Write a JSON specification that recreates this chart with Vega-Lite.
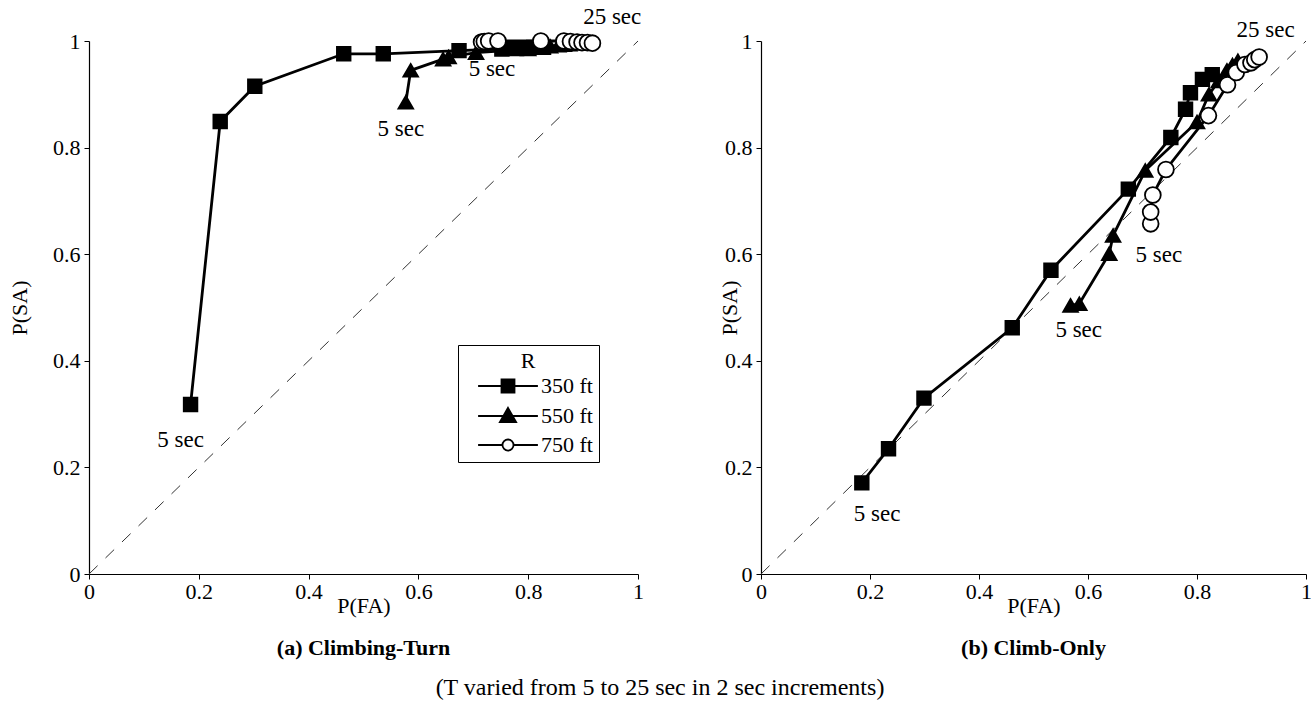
{
  "$schema": "https://vega.github.io/schema/vega-lite/v6.json",
  "background": "white",
  "padding": {"left": 8, "top": 6, "right": 0, "bottom": 4},
  "datasets": {
    "pts": [
      {"panel": "a", "R": "350 ft", "T": 5, "FA": 0.185, "SA": 0.318},
      {"panel": "a", "R": "350 ft", "T": 7, "FA": 0.239, "SA": 0.849},
      {"panel": "a", "R": "350 ft", "T": 9, "FA": 0.302, "SA": 0.915},
      {"panel": "a", "R": "350 ft", "T": 11, "FA": 0.464, "SA": 0.976},
      {"panel": "a", "R": "350 ft", "T": 13, "FA": 0.536, "SA": 0.976},
      {"panel": "a", "R": "350 ft", "T": 15, "FA": 0.674, "SA": 0.982},
      {"panel": "a", "R": "350 ft", "T": 17, "FA": 0.752, "SA": 0.985},
      {"panel": "a", "R": "350 ft", "T": 19, "FA": 0.779, "SA": 0.986},
      {"panel": "a", "R": "350 ft", "T": 21, "FA": 0.788, "SA": 0.987},
      {"panel": "a", "R": "350 ft", "T": 23, "FA": 0.810, "SA": 0.988},
      {"panel": "a", "R": "350 ft", "T": 25, "FA": 0.828, "SA": 0.988},
      {"panel": "a", "R": "550 ft", "T": 5, "FA": 0.577, "SA": 0.885},
      {"panel": "a", "R": "550 ft", "T": 7, "FA": 0.586, "SA": 0.945},
      {"panel": "a", "R": "550 ft", "T": 9, "FA": 0.645, "SA": 0.966},
      {"panel": "a", "R": "550 ft", "T": 11, "FA": 0.655, "SA": 0.970},
      {"panel": "a", "R": "550 ft", "T": 13, "FA": 0.705, "SA": 0.978},
      {"panel": "a", "R": "550 ft", "T": 15, "FA": 0.800, "SA": 0.985},
      {"panel": "a", "R": "550 ft", "T": 17, "FA": 0.822, "SA": 0.988},
      {"panel": "a", "R": "550 ft", "T": 19, "FA": 0.840, "SA": 0.990},
      {"panel": "a", "R": "550 ft", "T": 21, "FA": 0.855, "SA": 0.992},
      {"panel": "a", "R": "550 ft", "T": 23, "FA": 0.865, "SA": 0.993},
      {"panel": "a", "R": "550 ft", "T": 25, "FA": 0.875, "SA": 0.994},
      {"panel": "a", "R": "750 ft", "T": 5, "FA": 0.715, "SA": 0.998},
      {"panel": "a", "R": "750 ft", "T": 7, "FA": 0.720, "SA": 0.999},
      {"panel": "a", "R": "750 ft", "T": 9, "FA": 0.728, "SA": 1.0},
      {"panel": "a", "R": "750 ft", "T": 11, "FA": 0.745, "SA": 1.0},
      {"panel": "a", "R": "750 ft", "T": 13, "FA": 0.823, "SA": 1.0},
      {"panel": "a", "R": "750 ft", "T": 15, "FA": 0.865, "SA": 1.0},
      {"panel": "a", "R": "750 ft", "T": 17, "FA": 0.877, "SA": 0.999},
      {"panel": "a", "R": "750 ft", "T": 19, "FA": 0.889, "SA": 0.998},
      {"panel": "a", "R": "750 ft", "T": 21, "FA": 0.898, "SA": 0.997},
      {"panel": "a", "R": "750 ft", "T": 23, "FA": 0.908, "SA": 0.997},
      {"panel": "a", "R": "750 ft", "T": 25, "FA": 0.917, "SA": 0.996},
      {"panel": "b", "R": "350 ft", "T": 5, "FA": 0.185, "SA": 0.171},
      {"panel": "b", "R": "350 ft", "T": 7, "FA": 0.234, "SA": 0.235},
      {"panel": "b", "R": "350 ft", "T": 9, "FA": 0.299, "SA": 0.330},
      {"panel": "b", "R": "350 ft", "T": 11, "FA": 0.461, "SA": 0.462},
      {"panel": "b", "R": "350 ft", "T": 13, "FA": 0.532, "SA": 0.570},
      {"panel": "b", "R": "350 ft", "T": 15, "FA": 0.674, "SA": 0.722},
      {"panel": "b", "R": "350 ft", "T": 17, "FA": 0.752, "SA": 0.819},
      {"panel": "b", "R": "350 ft", "T": 19, "FA": 0.779, "SA": 0.872},
      {"panel": "b", "R": "350 ft", "T": 21, "FA": 0.788, "SA": 0.903},
      {"panel": "b", "R": "350 ft", "T": 23, "FA": 0.810, "SA": 0.928},
      {"panel": "b", "R": "350 ft", "T": 25, "FA": 0.828, "SA": 0.937},
      {"panel": "b", "R": "550 ft", "T": 5, "FA": 0.568, "SA": 0.504},
      {"panel": "b", "R": "550 ft", "T": 7, "FA": 0.584, "SA": 0.507},
      {"panel": "b", "R": "550 ft", "T": 9, "FA": 0.639, "SA": 0.601},
      {"panel": "b", "R": "550 ft", "T": 11, "FA": 0.646, "SA": 0.635},
      {"panel": "b", "R": "550 ft", "T": 13, "FA": 0.705, "SA": 0.757},
      {"panel": "b", "R": "550 ft", "T": 15, "FA": 0.800, "SA": 0.848},
      {"panel": "b", "R": "550 ft", "T": 17, "FA": 0.822, "SA": 0.900},
      {"panel": "b", "R": "550 ft", "T": 19, "FA": 0.840, "SA": 0.925},
      {"panel": "b", "R": "550 ft", "T": 21, "FA": 0.855, "SA": 0.945},
      {"panel": "b", "R": "550 ft", "T": 23, "FA": 0.865, "SA": 0.955},
      {"panel": "b", "R": "550 ft", "T": 25, "FA": 0.875, "SA": 0.963},
      {"panel": "b", "R": "750 ft", "T": 5, "FA": 0.715, "SA": 0.657},
      {"panel": "b", "R": "750 ft", "T": 7, "FA": 0.715, "SA": 0.679},
      {"panel": "b", "R": "750 ft", "T": 9, "FA": 0.719, "SA": 0.711},
      {"panel": "b", "R": "750 ft", "T": 11, "FA": 0.743, "SA": 0.759},
      {"panel": "b", "R": "750 ft", "T": 13, "FA": 0.821, "SA": 0.860},
      {"panel": "b", "R": "750 ft", "T": 15, "FA": 0.856, "SA": 0.918},
      {"panel": "b", "R": "750 ft", "T": 17, "FA": 0.872, "SA": 0.941},
      {"panel": "b", "R": "750 ft", "T": 19, "FA": 0.888, "SA": 0.956},
      {"panel": "b", "R": "750 ft", "T": 21, "FA": 0.899, "SA": 0.959},
      {"panel": "b", "R": "750 ft", "T": 23, "FA": 0.906, "SA": 0.965},
      {"panel": "b", "R": "750 ft", "T": 25, "FA": 0.914, "SA": 0.970}
    ],
    "diag": [{"FA": 0, "SA": 0, "FA2": 1, "SA2": 1}],
    "notes": [
      {"panel": "a", "FA": 0.167, "SA": 0.251, "label": "5 sec"},
      {"panel": "a", "FA": 0.568, "SA": 0.835, "label": "5 sec"},
      {"panel": "a", "FA": 0.734, "SA": 0.947, "label": "5 sec"},
      {"panel": "a", "FA": 0.953, "SA": 1.045, "label": "25  sec"},
      {"panel": "b", "FA": 0.213, "SA": 0.112, "label": "5 sec"},
      {"panel": "b", "FA": 0.583, "SA": 0.457, "label": "5 sec"},
      {"panel": "b", "FA": 0.730, "SA": 0.598, "label": "5 sec"},
      {"panel": "b", "FA": 0.926, "SA": 1.021, "label": "25 sec"}
    ]
  },
  "spacing": 123,
  "bounds": "flush",
  "title": {"text": "(T varied from 5 to 25 sec in 2 sec increments)", "orient": "bottom", "anchor": "middle", "font": "Liberation Serif", "fontSize": 24, "fontWeight": "normal", "color": "black", "offset": 17},
  "hconcat": [
    {
      "width": 549,
      "height": 533,
      "title": {"text": "(a) Climbing-Turn", "orient": "bottom", "anchor": "middle", "font": "Liberation Serif", "fontSize": 22, "fontWeight": "bold", "color": "black", "offset": 22},
      "encoding": {
        "x": {"field": "FA", "type": "quantitative", "scale": {"domain": [0, 1], "nice": false, "zero": false}, "axis": {"title": "P(FA)", "values": [0, 0.2, 0.4, 0.6, 0.8, 1], "titlePadding": -7}},
        "y": {"field": "SA", "type": "quantitative", "scale": {"domain": [0, 1], "nice": false, "zero": false}, "axis": {"title": "P(SA)", "values": [0, 0.2, 0.4, 0.6, 0.8, 1], "titlePadding": 21}}
      },
      "layer": [
        {"data": {"name": "diag"}, "mark": {"type": "rule", "strokeDash": [12, 11], "strokeWidth": 1, "color": "#333333"}, "encoding": {"x2": {"field": "FA2"}, "y2": {"field": "SA2"}}},
        {"data": {"name": "pts"}, "transform": [{"filter": "datum.panel === 'a'"}], "mark": {"type": "line", "color": "black", "strokeWidth": 2.8}, "encoding": {"detail": {"field": "R", "type": "nominal"}, "order": {"field": "T", "type": "quantitative"}}},
        {"data": {"name": "pts"}, "transform": [{"filter": "datum.panel === 'a'"}], "mark": {"type": "point", "stroke": "black", "strokeWidth": 1.8, "opacity": 1},
         "encoding": {
           "shape": {"field": "R", "type": "nominal", "scale": {"domain": ["350 ft", "550 ft", "750 ft"], "range": ["square", "triangle-up", "circle"]}, "legend": null},
           "fill": {"field": "R", "type": "nominal", "scale": {"domain": ["350 ft", "550 ft", "750 ft"], "range": ["black", "black", "white"]}, "legend": null},
           "size": {"field": "R", "type": "ordinal", "scale": {"domain": ["350 ft", "550 ft", "750 ft"], "range": [185, 250, 100]}, "legend": null}
         }},
        {"data": {"name": "pts"}, "transform": [{"filter": "datum.panel === 'a'"}], "mark": {"type": "point", "opacity": 0},
         "encoding": {
           "shape": {"field": "R", "type": "nominal", "title": "R", "scale": {"domain": ["350 ft", "550 ft", "750 ft"], "range": ["M-4.6,0H4.6M-1,-1H1V1H-1Z", "M-4.6,0H4.6M0,-1.25L1.25,0.95H-1.25Z", "M-4.6,0H-0.85M0.85,0H4.6M0.85,0A0.85,0.85,0,1,1,-0.85,0A0.85,0.85,0,1,1,0.85,0Z"]},
             "legend": {"orient": "none", "legendX": 369, "legendY": 304, "titleAnchor": "middle", "titleFont": "Liberation Serif", "titleFontSize": 22, "titleFontWeight": "normal", "titleColor": "black", "labelFont": "Liberation Serif", "labelFontSize": 22, "labelColor": "black", "symbolSize": 169, "symbolOffset": 33, "labelOffset": 22, "rowPadding": 7, "padding": 6, "strokeColor": "black", "fillColor": "white", "symbolStrokeColor": "black", "symbolStrokeWidth": 1.8, "symbolOpacity": 1, "titlePadding": 2}},
           "fill": {"field": "R", "type": "nominal", "title": "R", "scale": {"domain": ["350 ft", "550 ft", "750 ft"], "range": ["black", "black", "white"]},
             "legend": {"orient": "none", "legendX": 369, "legendY": 304, "titleAnchor": "middle", "titleFont": "Liberation Serif", "titleFontSize": 22, "titleFontWeight": "normal", "titleColor": "black", "labelFont": "Liberation Serif", "labelFontSize": 22, "labelColor": "black", "symbolSize": 169, "symbolOffset": 33, "labelOffset": 22, "rowPadding": 7, "padding": 6, "strokeColor": "black", "fillColor": "white", "symbolStrokeColor": "black", "symbolStrokeWidth": 1.8, "symbolOpacity": 1, "titlePadding": 2}},
           "stroke": {"field": "R", "type": "nominal", "title": "R", "scale": {"domain": ["350 ft", "550 ft", "750 ft"], "range": ["black", "black", "black"]},
             "legend": {"orient": "none", "legendX": 369, "legendY": 304, "titleAnchor": "middle", "titleFont": "Liberation Serif", "titleFontSize": 22, "titleFontWeight": "normal", "titleColor": "black", "labelFont": "Liberation Serif", "labelFontSize": 22, "labelColor": "black", "symbolSize": 169, "symbolOffset": 33, "labelOffset": 22, "rowPadding": 7, "padding": 6, "strokeColor": "black", "fillColor": "white", "symbolStrokeColor": "black", "symbolStrokeWidth": 1.8, "symbolOpacity": 1, "titlePadding": 2}}
         }},
        {"data": {"name": "notes"}, "transform": [{"filter": "datum.panel === 'a'"}], "mark": {"type": "text", "font": "Liberation Serif", "fontSize": 23, "color": "black"}, "encoding": {"text": {"field": "label", "type": "nominal"}}}
      ],
      "resolve": {"scale": {"shape": "independent", "fill": "independent", "stroke": "independent"}}
    },
    {
      "width": 545,
      "height": 533,
      "title": {"text": "(b) Climb-Only", "orient": "bottom", "anchor": "middle", "font": "Liberation Serif", "fontSize": 22, "fontWeight": "bold", "color": "black", "offset": 22},
      "encoding": {
        "x": {"field": "FA", "type": "quantitative", "scale": {"domain": [0, 1], "nice": false, "zero": false}, "axis": {"title": "P(FA)", "values": [0, 0.2, 0.4, 0.6, 0.8, 1], "titlePadding": -7}},
        "y": {"field": "SA", "type": "quantitative", "scale": {"domain": [0, 1], "nice": false, "zero": false}, "axis": {"title": "P(SA)", "values": [0, 0.2, 0.4, 0.6, 0.8, 1], "titlePadding": -17}}
      },
      "layer": [
        {"data": {"name": "diag"}, "mark": {"type": "rule", "strokeDash": [12, 11], "strokeWidth": 1, "color": "#333333"}, "encoding": {"x2": {"field": "FA2"}, "y2": {"field": "SA2"}}},
        {"data": {"name": "pts"}, "transform": [{"filter": "datum.panel === 'b'"}], "mark": {"type": "line", "color": "black", "strokeWidth": 2.8}, "encoding": {"detail": {"field": "R", "type": "nominal"}, "order": {"field": "T", "type": "quantitative"}}},
        {"data": {"name": "pts"}, "transform": [{"filter": "datum.panel === 'b'"}], "mark": {"type": "point", "stroke": "black", "strokeWidth": 1.8, "opacity": 1},
         "encoding": {
           "shape": {"field": "R", "type": "nominal", "scale": {"domain": ["350 ft", "550 ft", "750 ft"], "range": ["square", "triangle-up", "circle"]}, "legend": null},
           "fill": {"field": "R", "type": "nominal", "scale": {"domain": ["350 ft", "550 ft", "750 ft"], "range": ["black", "black", "white"]}, "legend": null},
           "size": {"field": "R", "type": "ordinal", "scale": {"domain": ["350 ft", "550 ft", "750 ft"], "range": [185, 250, 100]}, "legend": null}
         }},
        {"data": {"name": "notes"}, "transform": [{"filter": "datum.panel === 'b'"}], "mark": {"type": "text", "font": "Liberation Serif", "fontSize": 23, "color": "black"}, "encoding": {"text": {"field": "label", "type": "nominal"}}}
      ]
    }
  ],
  "config": {
    "view": {"stroke": null},
    "font": "Liberation Serif",
    "axis": {"labelFont": "Liberation Serif", "labelFontSize": 22, "labelColor": "black", "titleFont": "Liberation Serif", "titleFontSize": 22, "titleFontWeight": "normal", "titleColor": "black", "domainColor": "black", "domainWidth": 1.2, "tickColor": "black", "tickSize": 5, "grid": false, "format": "~g", "labelFlush": false, "labelOverlap": false},
    "axisX": {"labelPadding": 2},
    "axisY": {"labelPadding": 4}
  }
}
